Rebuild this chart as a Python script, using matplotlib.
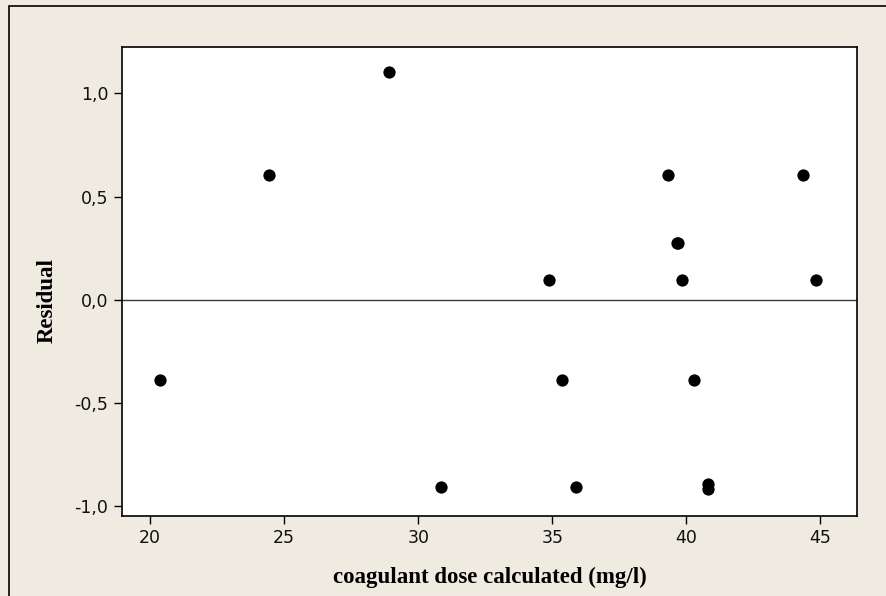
import matplotlib
matplotlib.use("Agg")
import matplotlib.pyplot as plt
from matplotlib.patches import Rectangle
from matplotlib.ticker import FixedLocator, FuncFormatter

# Data
dose = [20.37, 24.42, 28.90, 30.86, 34.89, 35.36, 35.88, 39.31, 39.64, 39.70,
        39.85, 40.29, 40.82, 40.82, 44.34, 44.85]
residual = [-0.392, 0.604, 1.105, -0.911, 0.095, -0.392, -0.911, 0.604, 0.274, 0.274,
            0.095, -0.392, -0.894, -0.917, 0.604, 0.095]

x_ticks = [20, 25, 30, 35, 40, 45]
y_ticks = [-1.0, -0.5, 0.0, 0.5, 1.0]
x_label = "coagulant dose calculated (mg/l)"
y_label = "Residual"

W, H = 887, 596
fig = plt.figure(figsize=(W / 100, H / 100), dpi=100)
fig.patch.set_facecolor("#EFEBE1")

# outer frame (left/top edges visible)
fig.patches.append(Rectangle((9 / W, -0.1), 2.0, 1.1 - 6 / H, transform=fig.transFigure,
                             fill=False, edgecolor="black", linewidth=1.2, zorder=0))

left, right, top, bottom = 122.3, 857.3, 47.3, 515.5
ax = fig.add_axes([left / W, 1 - bottom / H, (right - left) / W, (bottom - top) / H])
ax.set_facecolor("white")

ax.scatter(dose, residual, s=78, color="black", zorder=3, linewidths=0)
ax.axhline(0, color="#3a3a3a", linewidth=1.0, zorder=2)

ax.set_xlim(18.96, 46.38)
ax.set_ylim(-1.047, 1.224)

ax.xaxis.set_major_locator(FixedLocator(x_ticks))
ax.yaxis.set_major_locator(FixedLocator(y_ticks))
ax.xaxis.set_major_formatter(FuncFormatter(lambda v, p: f"{v:.0f}"))
ax.yaxis.set_major_formatter(FuncFormatter(lambda v, p: f"{v:.1f}".replace(".", ",").replace("-0,0", "0,0")))

for s in ax.spines.values():
    s.set_linewidth(1.2)
    s.set_color("black")

ax.tick_params(direction="out", length=6, width=1.0, labelsize=12.5, colors="black",
               pad=4, labelcolor="#111111")
for lab in ax.get_xticklabels() + ax.get_yticklabels():
    lab.set_family("DejaVu Sans")

fig.text((left + right) / 2 / W, 1 - 577 / H, x_label, ha="center", va="center",
         family="Liberation Serif", fontweight="bold", fontsize=16.5)
fig.text(47 / W, 1 - 300 / H, y_label, ha="center", va="center", rotation=90,
         family="Liberation Serif", fontweight="bold", fontsize=16.5)

fig.savefig("out.png", dpi=100, facecolor=fig.get_facecolor())
